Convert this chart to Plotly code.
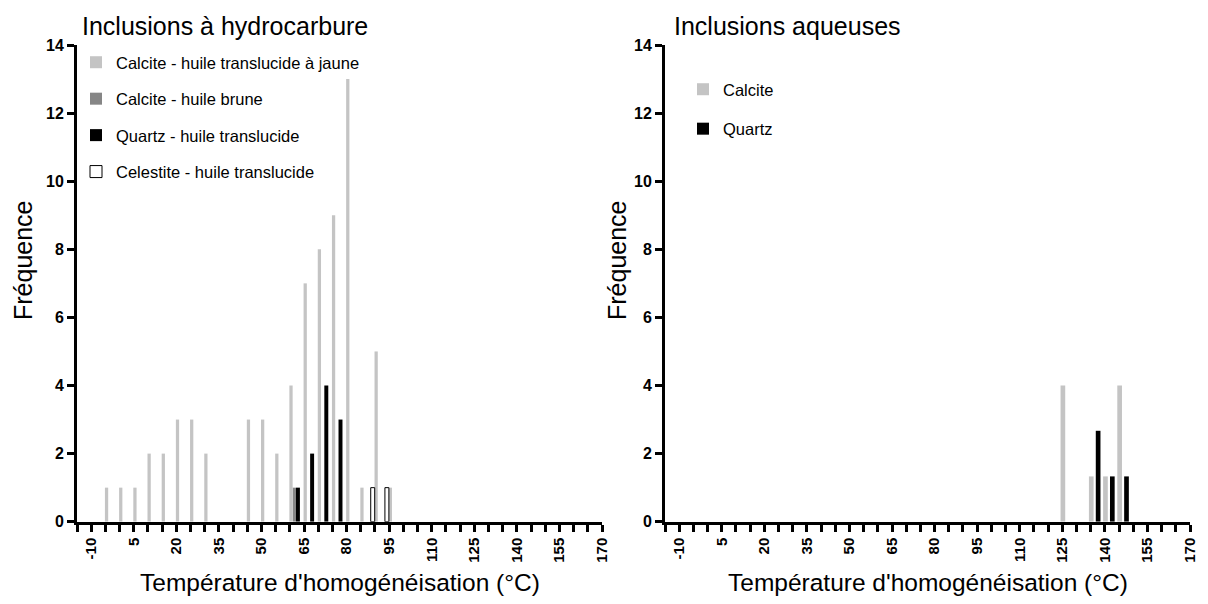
import plotly.graph_objects as go

# the page keeps an 8 px body margin, so the figure fills the rest of the window
PAGE_MARGIN = 8
W, H = 1208 - 2 * PAGE_MARGIN, 604 - 2 * PAGE_MARGIN

# Inclusions à hydrocarbure (bins of 5 °C)
calc_jaune_x = [-5, 0, 5, 10, 15, 20, 25, 30, 45, 50, 55, 60, 65, 70, 75, 80, 85, 90, 95]
calc_jaune_y = [1, 1, 1, 2, 2, 3, 3, 2, 3, 3, 2, 4, 7, 8, 9, 13, 1, 5, 1]
calc_brune_x = [60]
calc_brune_y = [1]
quartz_hc_x = [60, 65, 70, 75]
quartz_hc_y = [1, 2, 4, 3]
celestite_x = [90, 95]
celestite_y = [1, 1]

# Inclusions aqueuses
calcite_aq_x = [125, 135, 140, 145]
calcite_aq_y = [4, 1.33, 1.33, 4]
quartz_aq_x = [135, 140, 145]
quartz_aq_y = [2.67, 1.33, 1.33]

x_tick_vals = [-10, 5, 20, 35, 50, 65, 80, 95, 110, 125, 140, 155, 170]
x_tick_text = ["-10", "5", "20", "35", "50", "65", "80", "95", "110", "125", "140", "155", "170"]
y_tick_vals = [0, 2, 4, 6, 8, 10, 12, 14]

LIGHT = "#c4c4c4"
DARK = "#868686"
FONT = "Liberation Sans, Arial, sans-serif"


# window pixel -> paper fraction
def px_x(p):
    return (p - PAGE_MARGIN) / W


def px_y(p):
    return 1 - (p - PAGE_MARGIN) / H


fig = go.Figure()

# left panel
fig.add_trace(go.Bar(x=calc_jaune_x, y=calc_jaune_y, width=1.15, offset=-0.16,
                     marker=dict(color=LIGHT, line=dict(width=0)),
                     name="Calcite - huile translucide à jaune",
                     legendgroup="a", xaxis="x", yaxis="y"))
fig.add_trace(go.Bar(x=calc_brune_x, y=calc_brune_y, width=1.1, offset=1.05,
                     marker=dict(color=DARK, line=dict(width=0)),
                     name="Calcite - huile brune",
                     legendgroup="b", xaxis="x", yaxis="y"))
fig.add_trace(go.Bar(x=quartz_hc_x, y=quartz_hc_y, width=1.4, offset=2.15,
                     marker=dict(color="black", line=dict(width=0)),
                     name="Quartz - huile translucide",
                     legendgroup="c", xaxis="x", yaxis="y"))
fig.add_trace(go.Bar(x=celestite_x, y=celestite_y, width=1.4, offset=-1.5,
                     marker=dict(color="white", line=dict(color="black", width=1)),
                     name="Celestite - huile translucide",
                     legendgroup="d", xaxis="x", yaxis="y"))

# right panel
fig.add_trace(go.Bar(x=calcite_aq_x, y=calcite_aq_y, width=1.65, offset=-0.62,
                     marker=dict(color=LIGHT, line=dict(width=0)),
                     name="Calcite", legend="legend2",
                     legendgroup="e", xaxis="x2", yaxis="y2"))
fig.add_trace(go.Bar(x=quartz_aq_x, y=quartz_aq_y, width=1.65, offset=1.8,
                     marker=dict(color="black", line=dict(width=0)),
                     name="Quartz", legend="legend2",
                     legendgroup="f", xaxis="x2", yaxis="y2"))

xaxis_style = dict(
    range=[-15, 170], tickvals=x_tick_vals, ticktext=x_tick_text,
    tickangle=-90, ticks="outside", ticklen=7, tickwidth=3, tickcolor="black",
    showline=True, linewidth=3, linecolor="black", automargin=False,
    showgrid=False, zeroline=False, ticklabeloverflow="allow",
    tickfont=dict(family=FONT, size=15, color="black", weight="bold"),
    minor=dict(tick0=-10, dtick=5, ticks="outside", ticklen=7, tickwidth=3,
               tickcolor="black", showgrid=False),
)
yaxis_style = dict(
    range=[0, 14], tickvals=y_tick_vals, ticks="outside", ticklen=7,
    tickwidth=3, tickcolor="black", showline=True, linewidth=3,
    linecolor="black", showgrid=False, zeroline=False, automargin=False,
    tickfont=dict(family=FONT, size=16, color="black", weight="bold"),
)

y_dom = [px_y(521.7), px_y(45)]
fig.update_layout(
    template="none",
    width=W, height=H, autosize=False,
    margin=dict(l=0, r=0, t=0, b=0, pad=0),
    paper_bgcolor="white", plot_bgcolor="white",
    barmode="overlay",
    font=dict(family=FONT, color="black"),
    xaxis=dict(domain=[px_x(77), px_x(602)], anchor="y", **xaxis_style),
    yaxis=dict(domain=y_dom, anchor="x", **yaxis_style),
    xaxis2=dict(domain=[px_x(665), px_x(1190)], anchor="y2", **xaxis_style),
    yaxis2=dict(domain=y_dom, anchor="x2", **yaxis_style),
    legend=dict(x=px_x(76), y=px_y(45), xanchor="left", yanchor="top",
                font=dict(family=FONT, size=16.5, color="black"),
                bgcolor="rgba(0,0,0,0)", borderwidth=0, tracegroupgap=12,
                traceorder="grouped"),
    legend2=dict(x=px_x(683), y=px_y(72), xanchor="left", yanchor="top",
                 font=dict(family=FONT, size=16.5, color="black"),
                 bgcolor="rgba(0,0,0,0)", borderwidth=0, tracegroupgap=15,
                 traceorder="grouped"),
    showlegend=True,
)

annotations = [
    dict(text="Inclusions à hydrocarbure", x=px_x(80), y=px_y(26.5)),
    dict(text="Inclusions aqueuses", x=px_x(672), y=px_y(26.5)),
]
for a in annotations:
    fig.add_annotation(xref="paper", yref="paper", xanchor="left", yanchor="middle",
                       showarrow=False, font=dict(family=FONT, size=25, color="black"), **a)

for cx in [339.5, 928]:
    fig.add_annotation(text="Température d'homogénéisation (°C)", xref="paper", yref="paper",
                       x=px_x(cx), y=px_y(582), xanchor="center", yanchor="middle",
                       showarrow=False, font=dict(family=FONT, size=24.5, color="black"))
for cx in [23, 617]:
    fig.add_annotation(text="Fréquence", xref="paper", yref="paper", textangle=-90,
                       x=px_x(cx), y=px_y(260), xanchor="center", yanchor="middle",
                       showarrow=False, font=dict(family=FONT, size=25, color="black"))

fig.write_html("out.html")
